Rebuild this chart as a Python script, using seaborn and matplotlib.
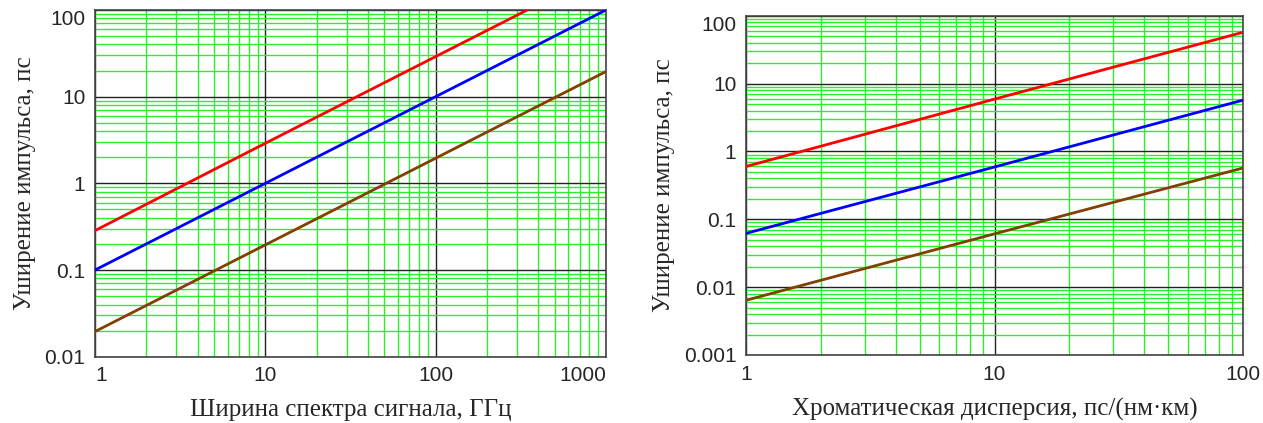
import numpy as np
import pandas as pd
import matplotlib
matplotlib.use("Agg")
import matplotlib.pyplot as plt
import seaborn as sns
from matplotlib.ticker import FixedLocator, LogLocator, NullFormatter

# Chart 1: broadening vs spectrum width (values read at decades)
spectrum_ghz = [1, 10, 100, 1000]
red_spec = [0.285, 2.9, 29, 290]
blue_spec = [0.1, 1.0, 10, 100]
brown_spec = [0.0195, 0.195, 1.95, 19.5]
spec_xticks = [1, 10, 100, 1000]
spec_xlabels = ["1", "10", "100", "1000"]
spec_yticks = [0.01, 0.1, 1, 10, 100]
spec_ylabels = ["0.01", "0.1", "1", "10", "100"]

# Chart 2: broadening vs chromatic dispersion
dispersion = [1, 10, 100]
red_disp = [0.6, 5.9, 57]
blue_disp = [0.062, 0.59, 5.7]
brown_disp = [0.0064, 0.061, 0.57]
disp_xticks = [1, 10, 100]
disp_xlabels = ["1", "10", "100"]
disp_yticks = [0.001, 0.01, 0.1, 1, 10, 100]
disp_ylabels = ["0.001", "0.01", "0.1", "1", "10", "100"]

colors = {"red": "#ff0000", "blue": "#0000ff", "brown": "#804000"}

sns.set_style("white")
plt.rcParams['font.family'] = ['Liberation Sans', 'DejaVu Sans']

fig = plt.figure(figsize=(12.63, 4.23), dpi=100)
ax1 = fig.add_axes([0.0752, 0.1567, 0.4046, 0.8197])
ax2 = fig.add_axes([0.5907, 0.1608, 0.3935, 0.8021])

df1 = pd.DataFrame({
    "x": spectrum_ghz * 3,
    "y": red_spec + blue_spec + brown_spec,
    "curve": ["red"] * 4 + ["blue"] * 4 + ["brown"] * 4,
})
df2 = pd.DataFrame({
    "x": dispersion * 3,
    "y": red_disp + blue_disp + brown_disp,
    "curve": ["red"] * 3 + ["blue"] * 3 + ["brown"] * 3,
})


def style_axes(ax, xticks, xlabels, yticks, ylabels, xlim, ylim, xlabel):
    ax.set_xscale("log")
    ax.set_yscale("log")
    ax.set_xlim(*xlim)
    ax.set_ylim(*ylim)
    ax.xaxis.set_major_locator(FixedLocator(xticks))
    ax.yaxis.set_major_locator(FixedLocator(yticks))
    ax.xaxis.set_minor_locator(LogLocator(base=10, subs=np.arange(2, 10)))
    ax.yaxis.set_minor_locator(LogLocator(base=10, subs=np.arange(2, 10)))
    ax.xaxis.set_minor_formatter(NullFormatter())
    ax.yaxis.set_minor_formatter(NullFormatter())
    ax.set_xticklabels(xlabels, fontsize=15)
    ax.set_yticklabels(ylabels, fontsize=15)
    ax.grid(which="minor", color="#2af02a", lw=1.0, zorder=0)
    ax.grid(which="major", color="#222222", lw=1.0, zorder=1)
    ax.set_axisbelow(True)
    ax.tick_params(which="both", length=0, pad=7)
    for s in ax.spines.values():
        s.set_color("#444444")
        s.set_linewidth(1.2)
    ax.set_xlabel(xlabel, family="Liberation Serif", fontsize=18, labelpad=10)
    ax.set_ylabel("Уширение импульса, пс", family="Liberation Serif", fontsize=18, labelpad=6)


sns.lineplot(data=df1, x="x", y="y", hue="curve", palette=colors, legend=False,
             lw=2, ax=ax1, zorder=3)
sns.lineplot(data=df2, x="x", y="y", hue="curve", palette=colors, legend=False,
             lw=2, ax=ax2, zorder=3)

style_axes(ax1, spec_xticks, spec_xlabels, spec_yticks, spec_ylabels,
           (1, 1000), (0.01, 100), "Ширина спектра сигнала, ГГц")
style_axes(ax2, disp_xticks, disp_xlabels, disp_yticks, disp_ylabels,
           (1, 100), (0.001, 100), "Хроматическая дисперсия, пс/(нм·км)")

# Mathcad-like end labels pulled inside the frame
xl = ax1.get_xticklabels()
xl[0].set_ha("left")
xl[-1].set_ha("right")
ax1.get_yticklabels()[-1].set_va("top")
ax2.get_yticklabels()[-1].set_va("top")

fig.savefig("out.png", dpi=100)
